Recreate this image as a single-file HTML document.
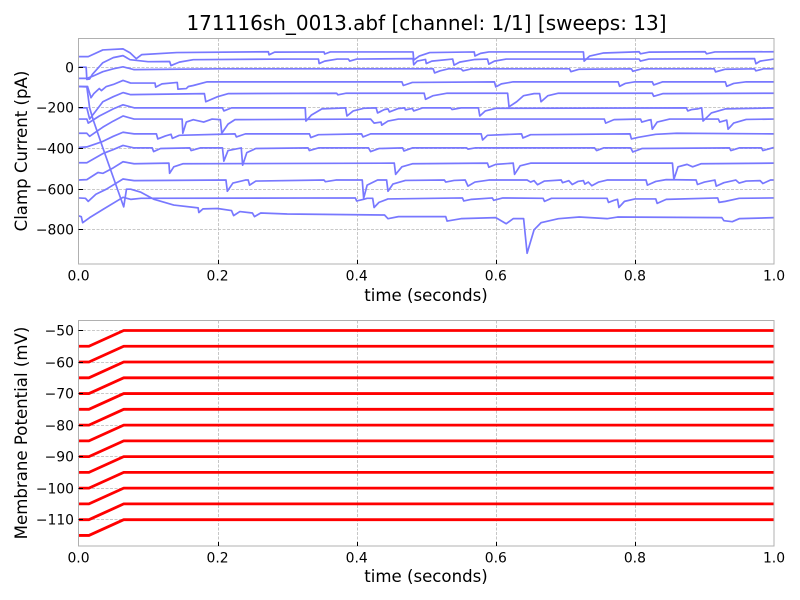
<!DOCTYPE html>
<html>
<head>
<meta charset="utf-8">
<title>171116sh_0013.abf</title>
<style>
html,body{margin:0;padding:0;background:#fff}
svg{display:block}
text{font-family:"DejaVu Sans","Liberation Sans",sans-serif;fill:#000}
</style>
</head>
<body>
<svg id="fig" width="800" height="600" viewBox="0 0 800 600" xmlns="http://www.w3.org/2000/svg">
<rect x="0" y="0" width="800" height="600" fill="#fff"/>
<defs>
<clipPath id="clipTop"><rect x="78.5" y="38.5" width="695.5" height="225.5"/></clipPath>
<clipPath id="clipBottom"><rect x="78.5" y="320.5" width="695.5" height="225.5"/></clipPath>
</defs>
<text x="426.5" y="30" font-size="20" text-anchor="middle">171116sh_0013.abf [channel: 1/1] [sweeps: 13]</text>
<g id="topGrid"></g>
<g id="bottomGrid"></g>
<g id="topSeries" clip-path="url(#clipTop)"></g>
<g id="bottomSeries" clip-path="url(#clipBottom)"></g>
<rect x="78.5" y="38.5" width="695.5" height="225.5" fill="none" stroke="#b0b0b0" stroke-width="1"/>
<rect x="78.5" y="320.5" width="695.5" height="225.5" fill="none" stroke="#b0b0b0" stroke-width="1"/>
<g id="topTicks"></g>
<g id="bottomTicks"></g>
<text x="426" y="301" font-size="16.6" text-anchor="middle">time (seconds)</text>
<text x="426" y="582" font-size="16.6" text-anchor="middle">time (seconds)</text>
<text transform="translate(27 151) rotate(-90)" font-size="16.6" text-anchor="middle">Clamp Current (pA)</text>
<text transform="translate(27 433) rotate(-90)" font-size="16.6" text-anchor="middle">Membrane Potential (mV)</text>
</svg>
<script>
const xTickValues = [0, 0.2, 0.4, 0.6, 0.8, 1];
const xTickLabels = ['0.0', '0.2', '0.4', '0.6', '0.8', '1.0'];
const currentTickValues = [0, -200, -400, -600, -800];
const voltageTickValues = [-50, -60, -70, -80, -90, -100, -110];
const voltageStartMv = [-115, -110, -105, -100, -95, -90, -85, -80, -75, -70, -65, -60, -55];
const voltageEndMv = [-110, -105, -100, -95, -90, -85, -80, -75, -70, -65, -60, -55, -50];
const rampTimes = [0, 0.015, 0.065, 1];

const sweep01 = [[0,52],[.014,52],[.035,85],[.064,90],[.074,71],[.083,42],[.091,62],[.141,72],[.273,76],[.274,61],[.282,74],[.353,75],[.354,65],[.362,75],[.481,75],[.482,35],[.49,55],[.505,72],[.569,75],[.57,55],[.578,68],[.59,75],[.726,75],[.727,30],[.735,55],[.755,70],[.806,76],[.808,66],[.82,74],[.901,76],[.903,66],[.915,75],[1,76]];
const sweep02 = [[0,0],[.011,0],[.012,-60],[.016,-58],[.02,-35],[.035,22],[.05,47],[.064,57],[.074,37],[.1,27],[.131,28],[.133,8],[.145,25],[.165,37],[.3,40],[.345,40],[.346,18],[.354,30],[.372,40],[.388,40],[.39,30],[.4,40],[.481,42],[.482,12],[.487,30],[.499,38],[.5,18],[.508,30],[.538,40],[.54,10],[.548,25],[.57,38],[.588,40],[.59,15],[.598,30],[.615,40],[.806,40],[.808,30],[.82,40],[.972,42],[.974,17],[.98,30],[1,40]];
const sweep03 = [[0,-55],[.012,-55],[.02,-45],[.035,-22],[.05,-8],[.064,2],[.072,-5],[.08,-12],[.2,-8],[.51,-8],[.512,-28],[.52,-18],[.532,-8],[.55,-8],[.553,-18],[.565,-8],[.706,-8],[.708,-22],[.72,-10],[.795,-8],[.797,-20],[.81,-8],[.914,-8],[.916,-23],[.93,-10],[.972,-8],[.974,-18],[.985,-8],[1,-8]];
const sweep04 = [[0,-95],[.013,-95],[.018,-150],[.022,-130],[.03,-105],[.033,-115],[.04,-95],[.05,-85],[.064,-65],[.075,-78],[.11,-78],[.111,-98],[.12,-82],[.142,-75],[.143,-108],[.155,-105],[.158,-95],[.165,-90],[.185,-72],[.25,-72],[.465,-72],[.467,-90],[.48,-75],[.598,-72],[.6,-97],[.608,-82],[.625,-72],[.776,-72],[.778,-94],[.786,-80],[.8,-72],[.825,-72],[.827,-87],[.84,-72],[.93,-72],[.932,-94],[.942,-80],[.96,-72],[1,-72]];
const sweep05 = [[0,-200],[.012,-200],[.016,-255],[.025,-215],[.035,-170],[.05,-145],[.064,-125],[.075,-135],[.181,-130],[.183,-170],[.2,-145],[.215,-130],[.371,-128],[.373,-136],[.385,-128],[.497,-128],[.499,-158],[.51,-140],[.53,-128],[.617,-128],[.619,-195],[.63,-170],[.64,-140],[.655,-130],[.663,-130],[.665,-170],[.675,-140],[.69,-128],[.825,-128],[.827,-143],[.84,-130],[1,-128]];
const sweep06 = [[0,-255],[.012,-255],[.014,-275],[.03,-240],[.05,-205],[.064,-185],[.08,-200],[.207,-200],[.209,-215],[.22,-200],[.326,-200],[.327,-265],[.335,-235],[.35,-205],[.384,-200],[.386,-240],[.395,-215],[.41,-202],[.428,-200],[.43,-225],[.44,-208],[.445,-205],[.447,-220],[.46,-203],[.469,-200],[.47,-210],[.48,-203],[.482,-215],[.495,-200],[.535,-200],[.537,-208],[.55,-200],[.575,-200],[.577,-240],[.585,-215],[.6,-202],[.874,-200],[.876,-215],[.882,-208],[.89,-205],[.896,-200],[.898,-265],[.91,-225],[.93,-205],[1,-200]];
const sweep07 = [[0,-325],[.012,-325],[.016,-340],[.035,-295],[.05,-265],[.064,-240],[.08,-255],[.149,-255],[.15,-325],[.155,-270],[.165,-258],[.18,-270],[.192,-255],[.204,-258],[.206,-325],[.215,-280],[.225,-258],[.42,-255],[.425,-275],[.435,-270],[.436,-285],[.445,-265],[.46,-255],[.756,-255],[.758,-275],[.77,-258],[.808,-255],[.81,-270],[.82,-260],[.823,-258],[.825,-305],[.832,-270],[.85,-255],[.92,-255],[.922,-270],[.932,-260],[.934,-305],[.942,-275],[.96,-257],[1,-255]];
const sweep08 = [[0,-395],[.012,-392],[.035,-365],[.05,-340],[.064,-320],[.08,-328],[.112,-328],[.114,-353],[.125,-338],[.133,-330],[.135,-350],[.145,-335],[.225,-328],[.227,-343],[.24,-328],[.332,-328],[.334,-346],[.345,-332],[.407,-328],[.409,-343],[.42,-328],[.579,-328],[.581,-358],[.588,-335],[.637,-328],[.639,-348],[.65,-332],[.793,-328],[.795,-353],[.805,-345],[.83,-330],[.86,-325],[1,-328]];
const sweep09 = [[0,-470],[.012,-470],[.035,-425],[.05,-405],[.064,-385],[.08,-397],[.106,-397],[.108,-415],[.118,-400],[.16,-397],[.162,-410],[.175,-397],[.207,-397],[.209,-462],[.215,-410],[.234,-397],[.236,-482],[.242,-420],[.255,-400],[.33,-397],[.332,-410],[.345,-397],[.417,-397],[.42,-415],[.432,-400],[.466,-397],[.468,-412],[.48,-397],[.558,-397],[.56,-403],[.57,-397],[.742,-397],[.745,-410],[.755,-397],[.794,-397],[.797,-417],[.81,-400],[.936,-397],[.938,-410],[.95,-397],[.982,-397],[.984,-410],[1,-395]];
const sweep10 = [[0,-555],[.012,-553],[.028,-518],[.035,-522],[.05,-495],[.064,-465],[.08,-475],[.13,-472],[.131,-522],[.137,-490],[.15,-475],[.454,-472],[.456,-527],[.465,-490],[.48,-475],[.588,-472],[.59,-492],[.6,-478],[.625,-472],[.627,-527],[.635,-485],[.65,-472],[.854,-472],[.856,-552],[.862,-490],[.875,-478],[.883,-490],[.895,-475],[1,-472]];
const sweep11 = [[0,-643],[.01,-645],[.014,-660],[.025,-625],[.04,-600],[.064,-550],[.08,-558],[.212,-555],[.214,-610],[.222,-570],[.24,-555],[.244,-555],[.246,-580],[.255,-560],[.353,-555],[.355,-563],[.37,-555],[.408,-555],[.41,-645],[.415,-580],[.43,-555],[.443,-555],[.445,-610],[.452,-575],[.47,-557],[.526,-555],[.528,-565],[.54,-557],[.556,-555],[.56,-585],[.57,-565],[.59,-555],[.645,-555],[.65,-565],[.655,-558],[.66,-578],[.67,-560],[.694,-555],[.696,-568],[.705,-558],[.71,-577],[.718,-562],[.726,-558],[.728,-575],[.733,-565],[.738,-583],[.748,-565],[.76,-555],[.816,-555],[.818,-580],[.83,-562],[.845,-553],[.888,-555],[.89,-577],[.9,-565],[.915,-555],[.917,-585],[.928,-568],[.945,-555],[.95,-570],[.96,-560],[.98,-558],[.984,-572],[.995,-555],[1,-555]];
const sweep12 = [[0,-731],[.004,-735],[.006,-765],[.016,-740],[.035,-700],[.064,-640],[.075,-650],[.09,-645],[.398,-643],[.4,-658],[.41,-650],[.415,-645],[.423,-645],[.425,-690],[.432,-665],[.445,-648],[.552,-643],[.554,-658],[.565,-650],[.595,-643],[.597,-655],[.61,-643],[.668,-645],[.67,-660],[.68,-645],[.76,-645],[.762,-665],[.77,-655],[.775,-650],[.777,-690],[.785,-660],[.8,-648],[.83,-648],[.832,-670],[.845,-650],[.919,-643],[.921,-665],[.93,-660],[.95,-645],[1,-643]];
const sweep13 = [[0,-95],[.012,-97],[.016,-200],[.021,-258],[.035,-397],[.065,-687],[.069,-600],[.075,-600],[.089,-614],[.108,-649],[.137,-678],[.172,-692],[.173,-715],[.179,-697],[.2,-695],[.22,-705],[.223,-730],[.232,-710],[.25,-717],[.253,-735],[.262,-717],[.3,-722],[.44,-727],[.445,-745],[.46,-735],[.528,-735],[.53,-757],[.55,-745],[.6,-740],[.615,-770],[.625,-745],[.64,-745],[.645,-915],[.655,-800],[.665,-765],[.69,-745],[.72,-737],[.76,-745],[.775,-737],[.925,-740],[.928,-755],[.94,-760],[.95,-745],[1,-740]];
const currentSweeps = [sweep01, sweep02, sweep03, sweep04, sweep05, sweep06, sweep07, sweep08, sweep09, sweep10, sweep11, sweep12, sweep13];

const NS = 'http://www.w3.org/2000/svg';
function xAxis(t) { return 78.5 + t * 695.5; }
function yCurrent(v) { return 67.2 - v * 0.2033; }
function yVoltage(v) { return 330.5 + (-50 - v) * 3.153; }
function svgEl(tag, parent) {
  const el = document.createElementNS(NS, tag);
  document.getElementById(parent).appendChild(el);
  return el;
}
function gridLine(parent, x1, y1, x2, y2) {
  const el = svgEl('line', parent);
  
  
  el.setAttribute('x1', x1);
  el.setAttribute('y1', y1);
  el.setAttribute('x2', x2);
  el.setAttribute('y2', y2);
  el.setAttribute('stroke', '#b8b8b8');
  el.setAttribute('stroke-width', '0.8');
  el.setAttribute('stroke-dasharray', '3 1.5');
}
function tickMark(parent, x1, y1, x2, y2) {
  const el = svgEl('line', parent);
  
  
  el.setAttribute('x1', x1);
  el.setAttribute('y1', y1);
  el.setAttribute('x2', x2);
  el.setAttribute('y2', y2);
  el.setAttribute('stroke', '#000');
  el.setAttribute('stroke-width', '1');
}
function tickLabel(parent, x, y, anchor, str) {
  const el = svgEl('text', parent);
  
  
  el.setAttribute('x', x);
  el.setAttribute('y', y);
  el.setAttribute('text-anchor', anchor);
  el.setAttribute('font-size', '13.9');
  el.textContent = str;
}
function fmt(v) { return v < 0 ? '\u2212' + Math.abs(v) : String(v); }

function drawXAxis(gridId, tickId, top, bottom) {
  xTickValues.forEach(function (t, i) {
    const x = Math.round(xAxis(t)) + 0.5;
    if (i > 0 && i < xTickValues.length - 1) {
      gridLine(gridId, x, top, x, bottom);
      tickMark(tickId, x, bottom, x, bottom - 4);
    }
    tickLabel(tickId, i === xTickValues.length - 1 ? 774 : xAxis(t), bottom + 16.5, 'middle', xTickLabels[i]);
  });
}
function drawYAxis(values, scale, gridId, tickId) {
  values.forEach(function (v) {
    const y = Math.floor(scale(v)) + 0.5;
    gridLine(gridId, 78.5, y, 774, y);
    tickMark(tickId, 78.5, y, 83, y);
    tickLabel(tickId, 74, y + 5, 'end', fmt(v));
  });
}
drawXAxis('topGrid', 'topTicks', 38.5, 264);
drawXAxis('bottomGrid', 'bottomTicks', 320.5, 546);
drawYAxis(currentTickValues, yCurrent, 'topGrid', 'topTicks');
drawYAxis(voltageTickValues, yVoltage, 'bottomGrid', 'bottomTicks');

currentSweeps.forEach(function (sweep) {
  const el = svgEl('polyline', 'topSeries');
  
  
  el.setAttribute('points', sweep.map(function (p) { return xAxis(p[0]).toFixed(2) + ',' + yCurrent(p[1]).toFixed(2); }).join(' '));
  el.setAttribute('fill', 'none');
  el.setAttribute('stroke', '#7878ff');
  el.setAttribute('stroke-width', '1.7');
  el.setAttribute('stroke-linejoin', 'round');
});

voltageStartMv.forEach(function (startMv, i) {
  const levels = [startMv, startMv, voltageEndMv[i], voltageEndMv[i]];
  const el = svgEl('polyline', 'bottomSeries');
  
  
  el.setAttribute('points', rampTimes.map(function (t, k) { return xAxis(t).toFixed(2) + ',' + yVoltage(levels[k]).toFixed(2); }).join(' '));
  el.setAttribute('fill', 'none');
  el.setAttribute('stroke', '#ff0000');
  el.setAttribute('stroke-width', '2.8');
  el.setAttribute('stroke-linejoin', 'round');
});
</script>
</body>
</html>
